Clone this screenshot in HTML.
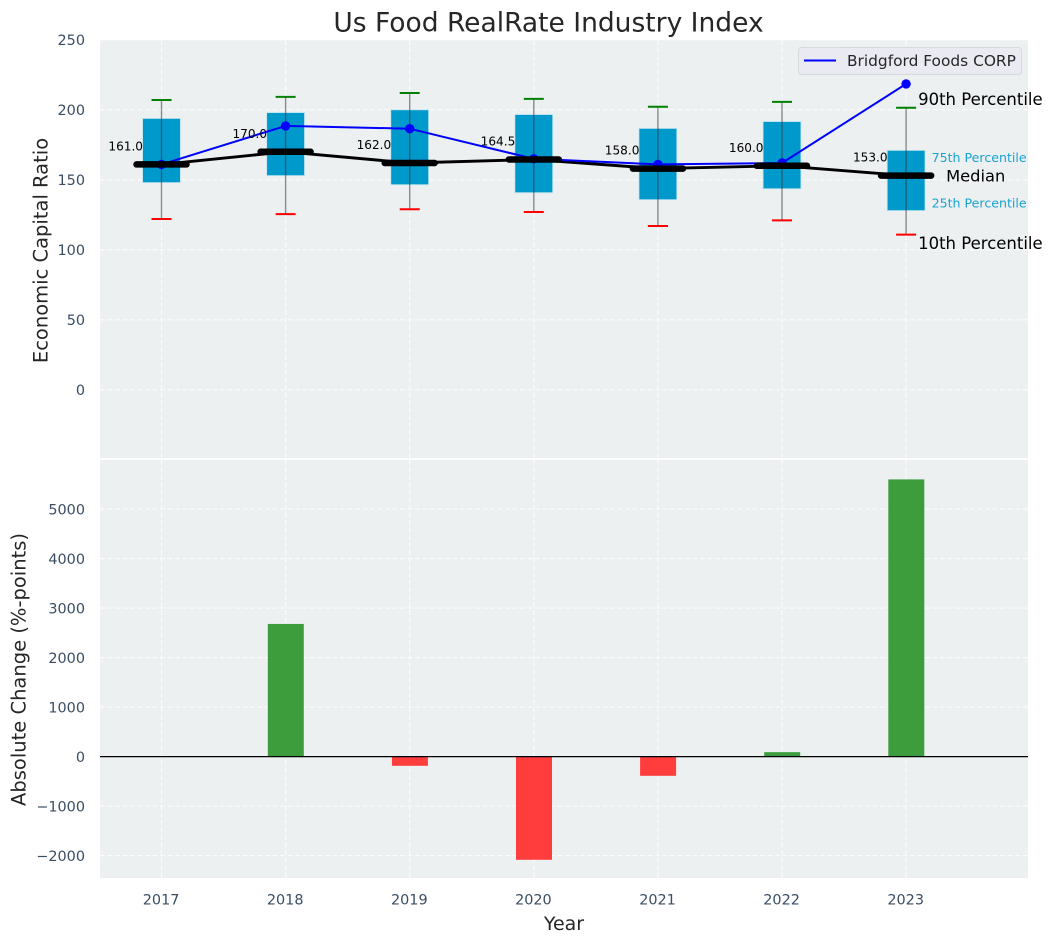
<!DOCTYPE html>
<html lang="en">
<head>
<meta charset="utf-8">
<title>Us Food RealRate Industry Index</title>
<style>
html,body{margin:0;padding:0;background:#fff;}
svg{display:block;font-family:"DejaVu Sans","Liberation Sans",sans-serif;}
</style>
</head>
<body>
<svg id="chart" xmlns="http://www.w3.org/2000/svg" width="1053" height="942" viewBox="0 0 1053 942"></svg>
<script>
const years = [2017, 2018, 2019, 2020, 2021, 2022, 2023];
const p10 = [122, 125.5, 129, 127, 117, 121, 110.8];
const p25 = [148, 153, 146.5, 140.8, 135.8, 143.6, 128];
const medians = [161, 170, 162, 164.5, 158, 160, 153];
const p75 = [193.8, 198, 200, 196.6, 186.7, 191.6, 171];
const p90 = [207, 209.2, 212, 207.8, 202.2, 205.7, 201.5];
const company = [161, 188.5, 186.5, 165, 161, 162, 218.5];
const changes = [0, 2680, -186, -2085, -388, 90, 5600];
const topTicks = [0, 50, 100, 150, 200, 250];
const bottomTicks = [-2000, -1000, 0, 1000, 2000, 3000, 4000, 5000];

const svg = document.getElementById('chart');
const NS = 'http://www.w3.org/2000/svg';
const LEFT = 100, RIGHT = 1028;
const TOP1 = 40, BOT1 = 458, TOP2 = 460, BOT2 = 878;

function xPos(year) { return 161.5 + (year - 2017) * 124.1; }
function yTop(v) { return 389.8 - v * 1.4; }
function yBot(v) { return 756.6 - v * 0.0495; }

function make(tag, attrs, parent) {
  const el = document.createElementNS(NS, tag);
  for (const k in attrs) el.setAttribute(k, attrs[k]);
  (parent || svg).appendChild(el);
  return el;
}
function label(str, x, cy, size, fill, anchor, parent) {
  const el = make('text', {x: x, y: cy + size * 0.365, 'font-size': size, fill: fill, 'text-anchor': anchor}, parent);
  el.textContent = str;
  return el;
}
function tickText(v) { return v < 0 ? '\u2212' + Math.abs(v) : String(v); }

/* panels */
const panelTop = make('rect', {x: LEFT, y: TOP1, width: RIGHT - LEFT, height: BOT1 - TOP1, fill: '#ecf0f1'});


const panelBottom = make('rect', {x: LEFT, y: TOP2, width: RIGHT - LEFT, height: BOT2 - TOP2, fill: '#ecf0f1'});



/* grid */
const grid = make('g', {stroke: '#ffffff', 'stroke-width': 1.1, 'stroke-dasharray': '5 2.5', opacity: 0.85});


topTicks.forEach(function (t) {
  make('line', {x1: LEFT, x2: RIGHT, y1: yTop(t), y2: yTop(t)}, grid);
});
bottomTicks.forEach(function (t) {
  make('line', {x1: LEFT, x2: RIGHT, y1: yBot(t), y2: yBot(t)}, grid);
});
years.forEach(function (yr) {
  make('line', {x1: xPos(yr), x2: xPos(yr), y1: TOP1, y2: BOT1}, grid);
  make('line', {x1: xPos(yr), x2: xPos(yr), y1: TOP2, y2: BOT2}, grid);
});

/* boxes */
years.forEach(function (yr, i) {
  const x = xPos(yr);
  const g = make('g', {});
  
  
  make('rect', {x: x - 18.9, y: yTop(p75[i]), width: 37.8, height: yTop(p25[i]) - yTop(p75[i]), fill: '#0099cc', stroke: '#bfe3ee', 'stroke-width': 0.8}, g);
  make('line', {x1: x, x2: x, y1: yTop(p90[i]), y2: yTop(p10[i]), stroke: '#333333', 'stroke-width': 1.4, opacity: 0.55}, g);
  make('line', {x1: x - 10, x2: x + 10, y1: yTop(p90[i]), y2: yTop(p90[i]), stroke: '#008000', 'stroke-width': 2}, g);
  make('line', {x1: x - 10, x2: x + 10, y1: yTop(p10[i]), y2: yTop(p10[i]), stroke: '#ff0000', 'stroke-width': 2}, g);
});

/* median trend line */
const medianLine = make('polyline', {
  points: years.map(function (yr, i) { return xPos(yr) + ',' + yTop(medians[i]); }).join(' '),
  fill: 'none', stroke: '#000000', 'stroke-width': 2.9
});



/* company series */
const companyLine = make('polyline', {
  points: years.map(function (yr, i) { return xPos(yr) + ',' + yTop(company[i]); }).join(' '),
  fill: 'none', stroke: '#0000ff', 'stroke-width': 2
});


years.forEach(function (yr, i) {
  const dot = make('circle', {cx: xPos(yr), cy: yTop(company[i]), r: 4.7, fill: '#0000ff'});
  
  
});

/* median bars and labels */
years.forEach(function (yr, i) {
  const x = xPos(yr), y = yTop(medians[i]);
  const bar = make('line', {x1: x - 25, x2: x + 25, y1: y, y2: y, stroke: '#000000', 'stroke-width': 6.5, 'stroke-linecap': 'round'});
  
  
  const txt = label(medians[i].toFixed(1), x - 18.5, y - 18.4, 12.1, '#000000', 'end');
  
  
});

/* annotations on the final year */
const last = years.length - 1;
const lx = xPos(years[last]);
const a90 = label('90th Percentile', lx + 12, yTop(p90[last]) - 8.5, 16.5, '#000000', 'start');


const a10 = label('10th Percentile', lx + 12, yTop(p10[last]) + 8.5, 16.5, '#000000', 'start');


const aMed = label('Median', lx + 40, yTop(medians[last]), 16.3, '#000000', 'start');


const a75 = label('75th Percentile', lx + 25.5, yTop(p75[last]) + 7, 12.6, '#1aa3d1', 'start');


const a25 = label('25th Percentile', lx + 25.5, yTop(p25[last]) - 7.5, 12.6, '#1aa3d1', 'start');



/* bars */
years.forEach(function (yr, i) {
  const v = changes[i];
  if (v === 0) return;
  const y0 = yBot(0), y1 = yBot(v);
  const bar = make('rect', {
    x: xPos(yr) - 17.8, y: Math.min(y0, y1), width: 36, height: Math.abs(y1 - y0),
    fill: v > 0 ? '#3d9d3d' : '#ff3d3d'
  });
  
  
});
const zero = make('line', {x1: LEFT, x2: RIGHT, y1: yBot(0), y2: yBot(0), stroke: '#000000', 'stroke-width': 1.2});



/* tick labels */
const tickColor = '#3a4d63';
topTicks.forEach(function (t) {
  const el = label(tickText(t), 85, yTop(t), 14.4, tickColor, 'end');
  
  
});
bottomTicks.forEach(function (t) {
  const el = label(tickText(t), 85, yBot(t), 14.4, tickColor, 'end');
  
  
});
years.forEach(function (yr) {
  const el = label(String(yr), xPos(yr) - 0.4, 899, 14.4, tickColor, 'middle');
  
  
});

/* titles */
const title = label('Us Food RealRate Industry Index', 548.5, 22, 26.5, '#262626', 'middle');


const xTitle = label('Year', 564, 923, 19, '#262626', 'middle');


const yTitleTop = make('text', {x: 0, y: 0, 'font-size': 19.5, fill: '#262626', 'text-anchor': 'middle', transform: 'translate(47.5,250.5) rotate(-90)'});
yTitleTop.textContent = 'Economic Capital Ratio';


const yTitleBot = make('text', {x: 0, y: 0, 'font-size': 19.5, fill: '#262626', 'text-anchor': 'middle', transform: 'translate(25.5,669.5) rotate(-90)'});
yTitleBot.textContent = 'Absolute Change (%-points)';



/* separator between the panels */
const sep = make('line', {x1: LEFT, x2: RIGHT, y1: 459, y2: 459, stroke: '#ffffff', 'stroke-width': 2});



/* legend */
const legend = make('g', {});


make('rect', {x: 798.5, y: 47.5, width: 223, height: 27, rx: 3, fill: '#eaeaf2', stroke: '#d8d8de', 'stroke-width': 1}, legend);
make('line', {x1: 804, x2: 836, y1: 60.5, y2: 60.5, stroke: '#0000ff', 'stroke-width': 2}, legend);
const legendText = label('Bridgford Foods CORP', 847, 60.5, 15.4, '#262626', 'start', legend);


</script>
</body>
</html>
